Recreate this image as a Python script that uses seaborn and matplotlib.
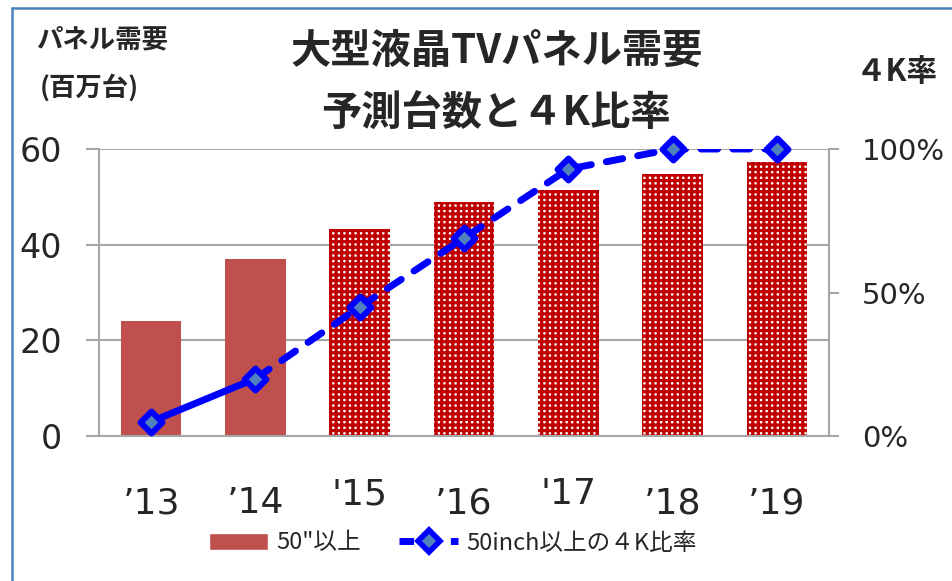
import numpy as np
import pandas as pd
import matplotlib.pyplot as plt
import seaborn as sns
from matplotlib.patches import Patch
from matplotlib.lines import Line2D

# データ
years = ["’13", "’14", "'15", "’16", "'17", "’18", "’19"]
demand = [24.0, 37.0, 43.3, 49.0, 51.5, 54.8, 57.3]   # 百万台
ratio_4k = [0.05, 0.20, 0.45, 0.69, 0.93, 1.00, 1.00]  # 50inch以上の4K比率

sns.set_style('white')
plt.rcParams['font.family'] = ['DejaVu Sans', 'Noto Sans CJK JP']
plt.rcParams['hatch.linewidth'] = 2.3

fig = plt.figure(figsize=(9.53, 5.81), dpi=100)
ax = fig.add_axes([99/953, 1-436/581, (829-99)/953, (436-149)/581])

df = pd.DataFrame({'year': years, 'demand': demand})
cols = ['#C0504D', '#C0504D'] + ['#C00000'] * 5
sns.barplot(data=df, x='year', y='demand', hue='year', palette=cols,
            legend=False, width=0.58, ax=ax, saturation=1)
for i, p in enumerate(ax.patches):
    p.set_linewidth(0)
    if i >= 2:
        p.set_facecolor('white')
        p.set_edgecolor('#C00000')
        p.set_hatch('+++')

ax.set_xlim(-0.5, 6.5)
ax.set_ylim(0, 60)
ax.set_yticks([0, 20, 40, 60])
ax.set_xlabel('')
ax.set_ylabel('')
ax.grid(axis='y', color='#A6A6A6', lw=1.5)
ax.set_axisbelow(True)
ax.spines['top'].set_visible(False)
for s in ['left', 'bottom', 'right']:
    ax.spines[s].set_color('#A6A6A6')
    ax.spines[s].set_linewidth(1.5)
ax.set_xticks(np.arange(-0.5, 7, 1), minor=True)
ax.tick_params(axis='x', which='minor', length=14, width=1.5, color='#A6A6A6')
ax.tick_params(axis='x', which='major', length=0, pad=36, labelsize=26)
ax.tick_params(axis='y', length=9.5, width=1.5, color='#A6A6A6', pad=17, labelsize=24)
for lab in ax.get_xticklabels():
    if lab.get_text().startswith("'"):
        lab.set_y(0.03)

# 4K比率
ax2 = ax.twinx()
sns.lineplot(x=[0, 1], y=ratio_4k[:2], color='#0000FF', lw=5,
             solid_capstyle='round', ax=ax2)
sns.lineplot(x=list(range(1, 7)), y=ratio_4k[1:], color='#0000FF', lw=5,
             linestyle=(0, (2.4, 2.2)), dash_capstyle='round', ax=ax2)
sns.scatterplot(x=list(range(7)), y=ratio_4k, marker='D', s=125,
                color='#4F81BD', edgecolor='#0000FF', linewidth=4.3,
                zorder=5, clip_on=False, ax=ax2)
ax2.set_ylim(0, 1)
ax2.set_yticks([0, 0.5, 1])
ax2.set_yticklabels(['0%', '50%', '100%'])
ax2.set_ylabel('')
for s in ax2.spines.values():
    s.set_visible(False)
ax2.tick_params(axis='y', length=7.5, width=1.5, color='#A6A6A6', pad=16, labelsize=21)

# タイトル・軸ラベル
fig.text(497/953, 1-51/581, '大型液晶TVパネル需要', ha='center', va='center',
         fontsize=29, fontweight='bold', family='Noto Sans CJK JP')
fig.text(496/953, 1-114/581, '予測台数と４K比率', ha='center', va='center',
         fontsize=29, fontweight='bold', family='Noto Sans CJK JP')
fig.text(36/953, 1-40/581, 'パネル需要', ha='left', va='center',
         fontsize=19, fontweight='bold', family='Noto Sans CJK JP')
fig.text(40/953, 1-88/581, '(百万台)', ha='left', va='center',
         fontsize=19, fontweight='bold', family='Noto Sans CJK JP')
fig.text(856/953, 1-72/581, '４K率', ha='left', va='center',
         fontsize=22, fontweight='bold', family='Noto Sans CJK JP')

# 凡例
handles = [Patch(facecolor='#C0504D', label='50"以上'),
           Line2D([], [], color='#0000FF', lw=5, linestyle=(0, (2.1, 1.6)),
                  marker='D', markersize=11, markerfacecolor='#4F81BD',
                  markeredgecolor='#0000FF', markeredgewidth=4,
                  label='50inch以上の４K比率')]
fig.legend(handles=handles, loc='center', bbox_to_anchor=(453/953, 1-543/581),
           ncol=2, frameon=False, handlelength=2.5, handletextpad=0.35,
           columnspacing=1.6, prop={'family': 'Noto Sans CJK JP', 'size': 17})

# 外枠
fig.add_artist(Line2D([12/953, 12/953], [0, 1-8/581], color='#4F81BD', lw=1.8))
fig.add_artist(Line2D([12/953, 1], [1-8/581, 1-8/581], color='#4F81BD', lw=1.8))

fig.savefig('out.png', dpi=100)
